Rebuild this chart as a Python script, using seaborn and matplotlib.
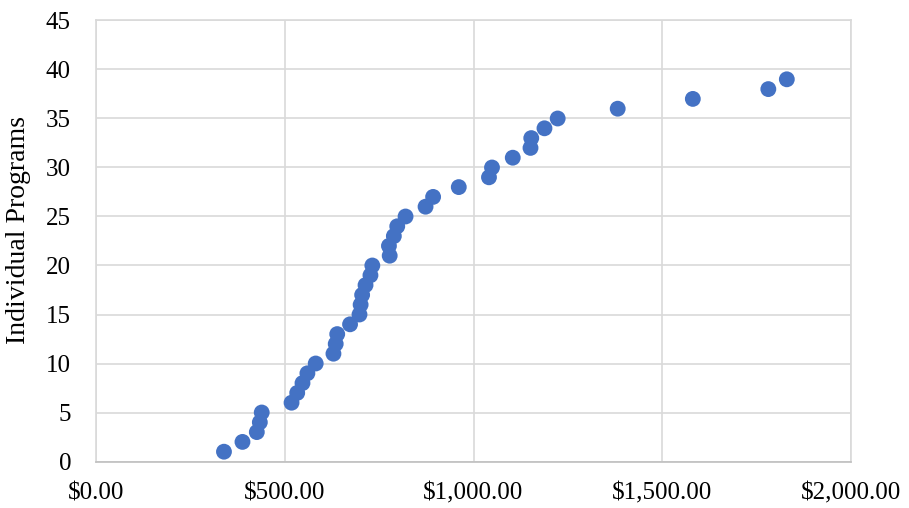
import matplotlib
matplotlib.use("Agg")
import matplotlib.pyplot as plt
import seaborn as sns
import pandas as pd
from matplotlib.ticker import FuncFormatter

# Data
cost = [339, 388, 426, 434, 439, 518, 533, 547, 560, 582,
        629, 635, 639, 673, 698, 701, 705, 714, 727, 732,
        778, 776, 789, 798, 820, 873, 893, 961, 1041, 1049,
        1104, 1151, 1153, 1188, 1223, 1382, 1581, 1781, 1830]
programs = list(range(1, 40))
x_ticks = [0, 500, 1000, 1500, 2000]
y_ticks = [0, 5, 10, 15, 20, 25, 30, 35, 40, 45]
y_label = "Individual Programs"

df = pd.DataFrame({"cost": cost, "programs": programs})

sns.set_theme(style="white")
plt.rcParams["font.family"] = ["Liberation Serif", "DejaVu Serif"]

fig = plt.figure(figsize=(9.09, 5.08), dpi=100)
ax = fig.add_axes([96 / 909, 46.5 / 508, 755 / 909, 441 / 508])

sns.scatterplot(data=df, x="cost", y="programs", ax=ax, s=130,
                color="#4472C4", edgecolor="none", zorder=3, clip_on=False)

ax.set_xlim(0, 2000)
ax.set_ylim(0, 45)
ax.set_xticks(x_ticks)
ax.set_yticks(y_ticks)
ax.xaxis.set_major_formatter(FuncFormatter(lambda v, p: "${:,.2f}".format(v)))
ax.grid(True, color="#D9D9D9", linewidth=1.2)
ax.set_axisbelow(True)
for side in ["top", "right", "left"]:
    ax.spines[side].set_color("#D9D9D9")
    ax.spines[side].set_linewidth(1.2)
ax.spines["bottom"].set_color("#BFBFBF")
ax.spines["bottom"].set_linewidth(1.2)

ax.tick_params(axis="both", length=0, labelsize=18, colors="black")
ax.tick_params(axis="x", pad=15)
ax.tick_params(axis="y", pad=18)
ax.set_xlabel("")
ax.set_ylabel(y_label, fontsize=20, color="black")
ax.yaxis.set_label_coords(-0.086, 0.525)

fig.savefig("out.png", dpi=100)
